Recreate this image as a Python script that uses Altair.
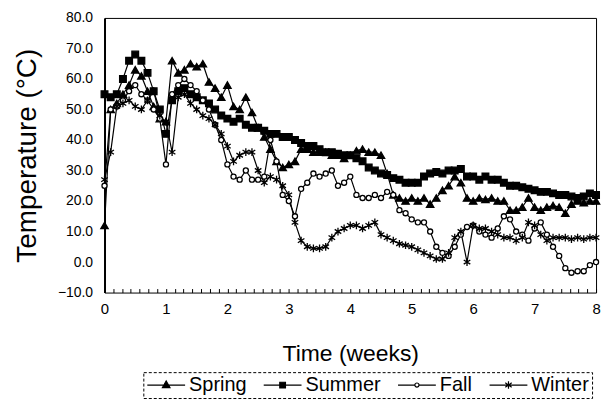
import altair as alt
import pandas as pd

FONT = "Liberation Sans"

seasons = ["Spring", "Summer", "Fall", "Winter"]
weeks = [i / 10 for i in range(81)]

spring = [12, 50, 52, 55, 58, 63, 61, 56, 51, 47,
          46, 66, 62, 63, 65, 64, 65, 59, 57, 54,
          58, 51, 50, 54, 49, 44, 41, 37, 33, 31,
          32, 33, 37, 37, 36, 36, 36, 35, 35, 34,
          35, 36.5, 37, 36, 36, 35, 29, 22, 21, 20,
          21, 20, 21, 19, 21, 23.5, 25, 28, 26, 21,
          20, 21, 20.5, 21, 20, 20, 17, 17, 18, 21,
          18, 17, 18, 18.5, 18, 16, 19, 20, 19.5, 20,
          20]
summer = [55, 54, 55, 60, 66, 68, 66, 62, 56, 50,
          42, 53, 56, 57, 55, 54, 53, 52, 50, 48,
          47, 46, 47, 45, 44, 44, 43, 42, 42, 41,
          41, 40, 39, 38, 38, 37, 36, 36, 35.5, 35,
          35, 34, 33, 31, 30, 29, 28.5, 27.5, 27, 26,
          26, 26, 28, 29, 29.5, 29, 30, 30, 30.5, 28,
          28, 27, 28, 27, 27, 26, 25, 25, 24.5, 24,
          23.5, 23, 23, 22.5, 22, 22, 21.5, 21, 21.5, 22.5,
          22]
fall = [25, 50, 51, 53, 56, 58, 55, 53, 50, 47,
        32, 55, 58, 60, 58, 56, 53, 50, 45, 40,
        32, 28, 27, 30, 27, 27, 28, 40, 33, 22,
        20, 15, 24, 26, 29, 28, 29, 30, 25, 26,
        28, 22, 21, 21, 22, 21, 23, 22, 17, 16,
        14, 13, 13, 10, 5, 3, 2, 5, 9, 11.5,
        12, 10, 9, 8, 11, 15, 14, 10, 9, 7,
        11, 13, 9, 5, 2, -2, -3.5, -3, -3, -1,
        0]
winter = [27, 36, 51, 52, 53, 51, 50, 53, 56, 48,
          46, 36, 54, 55, 52, 50, 48, 47, 45, 42,
          38, 33, 35, 36, 36, 30, 26, 28, 27, 25,
          22, 13, 7, 5, 4.5, 4.5, 5, 8, 10, 11,
          12, 12, 11, 12, 13, 9, 8, 7, 6, 5.5,
          5, 4, 3, 2, 1, 1, 3, 8, 10, 0,
          12, 11, 11, 10, 9, 8, 8, 7, 8, 13,
          12, 9, 7, 8, 8, 8, 7.5, 8, 7.5, 8,
          8]

y_ticks = [-10, 0, 10, 20, 30, 40, 50, 60, 70, 80]
day_ticks = [d / 7 for d in range(57)]

rows = []
for name, vals in zip(seasons, [spring, summer, fall, winter]):
    for t, v in zip(weeks, vals):
        rows.append({"week": t, "temp": v, "season": name})
df = pd.DataFrame(rows)

ASTERISK = "M0,-1L0,1M-0.85,-0.55L0.85,0.55M-0.85,0.55L0.85,-0.55"
marker_shapes = ["triangle-up", "square", "circle", ASTERISK]
marker_fills = ["black", "black", "white", "transparent"]
marker_strokes = ["black", "black", "black", "black"]
marker_sizes = [55, 45, 26, 60]

legend_shapes = [
    "M-1,0L1,0M0,-0.22L0.2,0.13L-0.2,0.13Z",
    "M-1,0L1,0M-0.15,-0.15L0.15,-0.15L0.15,0.15L-0.15,0.15Z",
    "M-1,0L-0.11,0M0.11,0L1,0M0.11,0A0.11,0.11 0 1,1 -0.11,0A0.11,0.11 0 1,1 0.11,0Z",
    "M-1,0L1,0M0,-0.2L0,0.2M-0.17,-0.12L0.17,0.12M-0.17,0.12L0.17,-0.12",
]

x_enc = alt.X(
    "week:Q",
    scale=alt.Scale(domain=[0, 8], nice=False),
    axis=alt.Axis(
        values=day_ticks,
        labelExpr="abs(datum.value - round(datum.value)) < 0.001 ? format(round(datum.value), 'd') : ''",
        title="Time  (weeks)",
        domain=False,
        offset=-4,
        tickSize=4,
        tickColor="black",
        tickWidth=1,
        labelPadding=9,
        labelFontSize=15,
        labelOverlap=False,
        labelFlush=False,
        titleFontSize=23,
        titlePadding=26,
        grid=False,
    ),
)
y_enc = alt.Y(
    "temp:Q",
    scale=alt.Scale(domain=[-10, 80], nice=False),
    axis=alt.Axis(
        values=y_ticks,
        format=".1f",
        title="Temperature (°C)",
        ticks=False,
        labelPadding=12,
        labelFontSize=14,
        domainColor="black",
        domainWidth=2,
        titleFontSize=28,
        titlePadding=16,
        grid=False,
    ),
)

lines = alt.Chart(df).mark_line(color="black", strokeWidth=1.2).encode(
    x=x_enc, y=y_enc, detail="season:N"
)

points = alt.Chart(df).mark_point(opacity=1, strokeWidth=1.3).encode(
    x=x_enc,
    y=y_enc,
    shape=alt.Shape("season:N", scale=alt.Scale(domain=seasons, range=marker_shapes), legend=None),
    fill=alt.Fill("season:N", scale=alt.Scale(domain=seasons, range=marker_fills), legend=None),
    size=alt.Size("season:N", scale=alt.Scale(type="ordinal", domain=seasons, range=marker_sizes), legend=None),
    stroke=alt.value("black"),
)

legend_spec = alt.Legend(
    title=None,
    orient="none",
    legendX=39,
    legendY=356,
    direction="horizontal",
    columns=4,
    symbolSize=1444,
    clipHeight=20,
    symbolStrokeWidth=1.2,
    labelFontSize=20,
    labelFont=FONT,
    labelColor="black",
    labelOffset=3,
    columnPadding=16,
    padding=3,
    strokeColor="black",
)

legend_layer = alt.Chart(df).transform_filter("datum.temp > 1000").mark_point(
    opacity=1, strokeWidth=1.2
).encode(
    x=x_enc,
    y=y_enc,
    shape=alt.Shape("season:N", scale=alt.Scale(domain=seasons, range=legend_shapes), legend=legend_spec),
    fill=alt.Fill("season:N", scale=alt.Scale(domain=seasons, range=marker_fills), legend=legend_spec),
    stroke=alt.Stroke("season:N", scale=alt.Scale(domain=seasons, range=marker_strokes), legend=legend_spec),
)

chart = (
    alt.layer(lines, points, legend_layer)
    .resolve_scale(shape="independent", fill="independent", size="independent", stroke="independent")
    .properties(width=494, height=276, padding={"left": 5, "top": 2, "right": 0, "bottom": 0})
    .configure_view(stroke="black", strokeWidth=1)
    .configure_axis(
        labelFont=FONT,
        titleFont=FONT,
        labelColor="black",
        titleColor="black",
        titleFontWeight="normal",
    )
    .configure_legend(strokeDash=[3, 2], strokeWidth=1)
)

chart.save("out.html", embed_options={"renderer": "svg", "actions": False})
